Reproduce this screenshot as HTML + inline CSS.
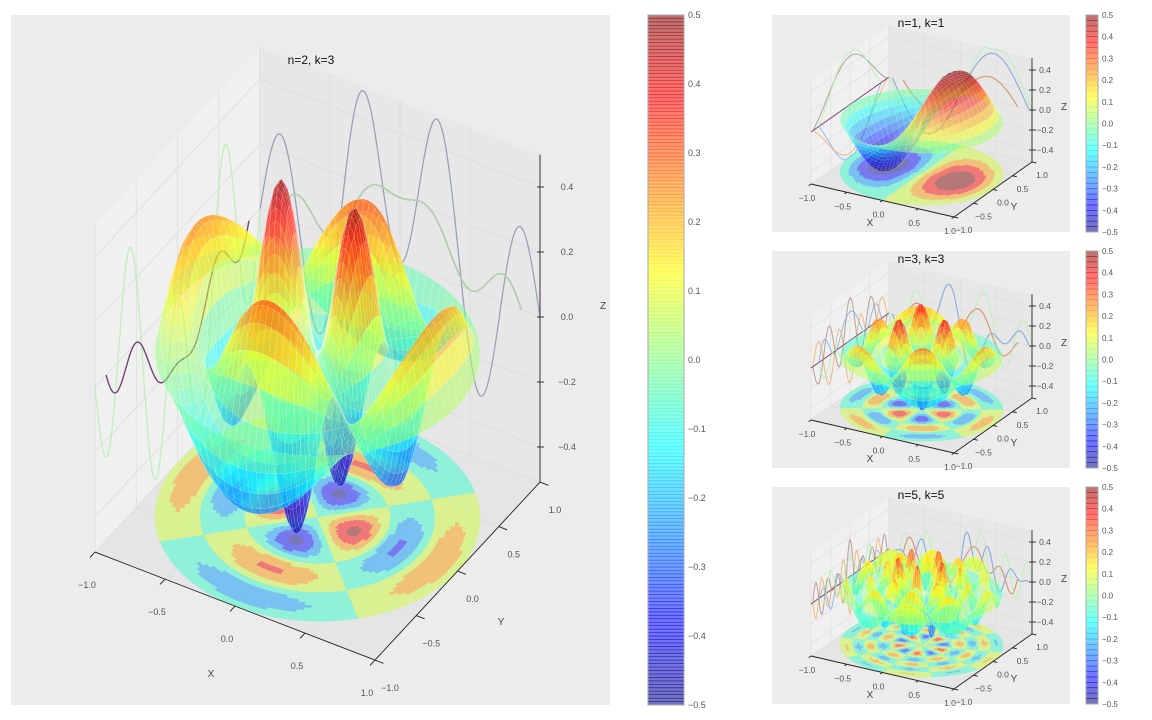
<!DOCTYPE html>
<html><head><meta charset="utf-8"><style>
html,body{margin:0;padding:0;background:#fff;}
svg{display:block;font-family:"Liberation Sans",sans-serif;}
</style></head><body>
<svg id="fig" width="1152" height="720" viewBox="0 0 1152 720" xmlns="http://www.w3.org/2000/svg">
<rect x="11" y="15" width="599" height="690" fill="#ececec"/>
<rect x="772" y="15" width="298" height="217" fill="#ececec"/>
<rect x="772" y="251" width="298" height="217" fill="#ececec"/>
<rect x="772" y="487" width="298" height="217" fill="#ececec"/>
</svg>
<script>
const nValues=[2,1,3,5];
const kValues=[3,1,3,5];
const besselZeros={1:[3.8317,7.0156,10.1735],2:[5.1356,8.4172,11.6198],3:[6.3802,9.7610,13.0152],5:[8.7715,12.3386,15.7002,19.0059,22.2178]};
const axisTicks=[-1,-0.5,0,0.5,1];
const axisTickLabels=['\u22121.0','\u22120.5','0.0','0.5','1.0'];
const zTicks=[-0.4,-0.2,0,0.2,0.4];
const zTickLabels=['\u22120.4','\u22120.2','0.0','0.2','0.4'];
const cbTicks=[0.5,0.4,0.3,0.2,0.1,0,-0.1,-0.2,-0.3,-0.4,-0.5];
const cbTickLabels=['0.5','0.4','0.3','0.2','0.1','0.0','\u22120.1','\u22120.2','\u22120.3','\u22120.4','\u22120.5'];
const contourStep=[0.15];
const sliceLevelsMain=[-0.5,0,0.5];
const sliceColorsMain=['#8898ac','#b4f0b4','#6e2c62'];
const sliceLevelsSmall=[-0.6,-0.3,0,0.3,0.6];
const sliceColorsSmall=['#80b0f0','#f0b070','#6e2c62','#a89484','#b4f0b4'];

const NS='http://www.w3.org/2000/svg';
const svg=document.getElementById('fig');
function mk(tag,attrs,parent){const e=document.createElementNS(NS,tag);for(const k in attrs)e.setAttribute(k,attrs[k]);(parent||svg).appendChild(e);return e;}
function clamp(v){return Math.max(0,Math.min(1,v));}
function jet(t){t=clamp(t);const r=clamp(1.5-Math.abs(4*t-3)),g=clamp(1.5-Math.abs(4*t-2)),b=clamp(1.5-Math.abs(4*t-1));return 'rgb('+Math.round(r*255)+','+Math.round(g*255)+','+Math.round(b*255)+')';}
function J(n,x){const N=64;let s=0;for(let i=0;i<=N;i++){const t=Math.PI*i/N;const w=(i==0||i==N)?0.5:1;s+=w*Math.cos(n*t-x*Math.sin(t));}return s/N;}

const layouts=[
 {O:[317.5,352],ex:[140,54],ey:[82.5,-89],ez:[0,-325],z0:-0.508,z1:0.5,nr:30,na:96,fr:40,fa:128,big:true,title:[311,64],dy:0},
 {O:[921.5,121],ex:[71.5,16.5],ey:[39,-27.5],ez:[0,-100],z0:-0.52,z1:0.52,nr:20,na:64,fr:30,fa:96,big:false,title:[921,27],dy:0},
 {O:[921.5,357],ex:[71.5,16.5],ey:[39,-27.5],ez:[0,-100],z0:-0.52,z1:0.52,nr:20,na:72,fr:30,fa:96,big:false,title:[921,263],dy:236},
 {O:[921.5,593],ex:[71.5,16.5],ey:[39,-27.5],ez:[0,-100],z0:-0.52,z1:0.52,nr:22,na:90,fr:34,fa:120,big:false,title:[921,499],dy:472}
];

function drawPanel(idx){
 const L=layouts[idx];const n=nValues[idx],k=kValues[idx];const a=besselZeros[n][k-1];
 const f=(x,y)=>{const r=Math.hypot(x,y),th=Math.atan2(y,x);return J(n,a*r)*Math.cos(n*th);};
 const P=(x,y,z)=>[L.O[0]+x*L.ex[0]+y*L.ey[0]+z*L.ez[0],L.O[1]+x*L.ex[1]+y*L.ey[1]+z*L.ez[1]];
 const pt=p=>p[0].toFixed(1)+','+p[1].toFixed(1);
 const g=mk('g',{});
 
 
 const z0=L.z0,z1=L.z1;
 const lw=mk('polygon',{points:[P(-1,-1,z0),P(-1,1,z0),P(-1,1,z1),P(-1,-1,z1)].map(pt).join(' '),fill:'#f0f0f0'},g);
 
 
 const bw=mk('polygon',{points:[P(-1,1,z0),P(1,1,z0),P(1,1,z1),P(-1,1,z1)].map(pt).join(' '),fill:'#e7e7e7'},g);
 
 
 const fl=mk('polygon',{points:[P(-1,-1,z0),P(1,-1,z0),P(1,1,z0),P(-1,1,z0)].map(pt).join(' '),fill:'#e5e5e5'},g);
 
 
 const gg=mk('g',{stroke:'#dcdcdc','stroke-width':L.big?0.8:0.6,fill:'none'},g);
 
 
 axisTicks.forEach(t=>{
  mk('line',{x1:P(t,-1,z0)[0],y1:P(t,-1,z0)[1],x2:P(t,1,z0)[0],y2:P(t,1,z0)[1]},gg);
  mk('line',{x1:P(-1,t,z0)[0],y1:P(-1,t,z0)[1],x2:P(1,t,z0)[0],y2:P(1,t,z0)[1]},gg);
  mk('line',{x1:P(-1,t,z0)[0],y1:P(-1,t,z0)[1],x2:P(-1,t,z1)[0],y2:P(-1,t,z1)[1]},gg);
  mk('line',{x1:P(t,1,z0)[0],y1:P(t,1,z0)[1],x2:P(t,1,z1)[0],y2:P(t,1,z1)[1]},gg);
 });
 zTicks.forEach(t=>{
  mk('line',{x1:P(-1,-1,t)[0],y1:P(-1,-1,t)[1],x2:P(-1,1,t)[0],y2:P(-1,1,t)[1]},gg);
  mk('line',{x1:P(-1,1,t)[0],y1:P(-1,1,t)[1],x2:P(1,1,t)[0],y2:P(1,1,t)[1]},gg);
 });
 const lev=L.big?sliceLevelsMain:sliceLevelsSmall, cols=L.big?sliceColorsMain:sliceColorsSmall;
 lev.forEach((c,i)=>{
  const h=Math.sqrt(1-c*c);const pa=[],pb=[];
  for(let s=0;s<=200;s++){const u=-h+2*h*s/200;
   pa.push(pt(P(-1,u,Math.max(z0,Math.min(z1,f(c,u))))));
   pb.push(pt(P(u,1,Math.max(z0,Math.min(z1,f(u,c))))));}
  const l1=mk('polyline',{points:pa.join(' '),fill:'none',stroke:cols[i],'stroke-width':L.big?1.3:1,'stroke-opacity':0.85},g);
  
  
  const l2=mk('polyline',{points:pb.join(' '),fill:'none',stroke:cols[(i+2)%cols.length],'stroke-width':L.big?1.3:1,'stroke-opacity':0.85},g);
  
  
 });
 const fg=mk('g',{opacity:0.47},g);
 
 
 const st=contourStep[0];
 for(let i=0;i<L.fr;i++)for(let j=0;j<L.fa;j++){
  const r0=i/L.fr,r1=(i+1)/L.fr,t0=2*Math.PI*j/L.fa,t1=2*Math.PI*(j+1)/L.fa;
  const rm=(r0+r1)/2,tm=(t0+t1)/2;const v=f(rm*Math.cos(tm),rm*Math.sin(tm));
  const q=Math.floor(v/st)*st+st/2;
  const c=jet(q+0.5);
  const ps=[[r0,t0],[r1,t0],[r1,t1],[r0,t1]].map(([r,t])=>pt(P(r*Math.cos(t),r*Math.sin(t),z0)));
  const pg=mk('polygon',{points:ps.join(' '),fill:c,stroke:c,'stroke-width':0.6},fg);
  
  
 }
 const quads=[];const e=0.45;
 for(let i=0;i<L.nr;i++)for(let j=0;j<L.na;j++){
  const r0=i/L.nr,r1=(i+1)/L.nr,t0=2*Math.PI*j/L.na,t1=2*Math.PI*(j+1)/L.na;
  const cs=[[r0,t0],[r1,t0],[r1,t1],[r0,t1]].map(([r,t])=>{const x=r*Math.cos(t),y=r*Math.sin(t);return [x,y,Math.max(z0,Math.min(z1,f(x,y)))];});
  const zm=(cs[0][2]+cs[1][2]+cs[2][2]+cs[3][2])/4;
  const xm=(cs[0][0]+cs[2][0])/2,ym=(cs[0][1]+cs[2][1])/2;
  quads.push({cs,zm,d:(xm-ym)/Math.SQRT2*Math.cos(e)+zm*Math.sin(e)});
 }
 quads.sort((p,q)=>p.d-q.d);
 const sg=mk('g',{},g);
 
 
 quads.forEach(qd=>{
  const pg=mk('polygon',{points:qd.cs.map(c=>pt(P(c[0],c[1],c[2]))).join(' '),fill:jet(qd.zm+0.5),'fill-opacity':0.5,stroke:'#ffffff','stroke-opacity':0.3,'stroke-width':L.big?0.4:0.3},sg);
  
  
 });
 const ag=mk('g',{stroke:'#222','stroke-width':0.9,fill:'none'},g);
 
 
 [[P(-1,-1,z0),P(1,-1,z0)],[P(1,-1,z0),P(1,1,z0)],[P(1,1,z0),P(1,1,z1)]].forEach(([p,q])=>mk('line',{x1:p[0],y1:p[1],x2:q[0],y2:q[1]},ag));
 const fs=L.big?9:8.5;const tc='#555';
 axisTicks.forEach((t,i)=>{
  const p=P(t,-1,z0),q=P(t,-1.06,z0);mk('line',{x1:p[0],y1:p[1],x2:q[0],y2:q[1]},ag);
  const ox=L.big?[-8,36]:[-4,17];
  const tx=mk('text',{x:p[0]+ox[0],y:p[1]+ox[1],'font-size':fs,fill:tc,'text-anchor':'middle'},g);tx.textContent=axisTickLabels[i];
  
  
  const p2=P(1,t,z0),q2=P(1.06,t,z0);mk('line',{x1:p2[0],y1:p2[1],x2:q2[0],y2:q2[1]},ag);
  const oy=L.big?[15,31]:[10,16];
  const ty=mk('text',{x:p2[0]+oy[0],y:p2[1]+oy[1],'font-size':fs,fill:tc,'text-anchor':'middle'},g);ty.textContent=axisTickLabels[i];
  
  
 });
 zTicks.forEach((t,i)=>{
  const p=P(1,1,t);mk('line',{x1:p[0]-3,y1:p[1],x2:p[0]+4,y2:p[1]},ag);
  const tz=mk('text',{x:p[0]+(L.big?27:13),y:p[1]+3,'font-size':fs,fill:tc,'text-anchor':'middle'},g);tz.textContent=zTickLabels[i];
  
  
 });
 const lab=L.big?{X:[211,677],Y:[501,625],Z:[603,309]}:{X:[870,226+L.dy],Y:[1014,210+L.dy],Z:[1064,110+L.dy]};
 ['X','Y','Z'].forEach(s=>{const t=mk('text',{x:lab[s][0],y:lab[s][1],'font-size':10,fill:'#444','text-anchor':'middle'},g);t.textContent=s;
  
  });
 const ti=mk('text',{x:L.title[0],y:L.title[1],'font-size':12,fill:'#111','text-anchor':'middle'},g);
 ti.textContent='n='+n+', k='+k;
 
 
}

function drawColorbar(x,y,w,h,levels,big,name){
 const g=mk('g',{});
 
 
 mk('rect',{x:x,y:y,width:w,height:h,fill:'#fff'},g);
 for(let i=0;i<levels;i++){
  const v=1-(i+0.5)/levels;const sy=y+h*i/levels;
  const s=mk('rect',{x:x,y:sy,width:w,height:h/levels+0.3,fill:jet(v),'fill-opacity':0.55},g);
  
  
  mk('line',{x1:x,x2:x+w,y1:sy,y2:sy,stroke:jet(v),'stroke-opacity':0.6,'stroke-width':0.7},g);
 }
 mk('rect',{x:x,y:y,width:w,height:h,fill:'none',stroke:'#aaa','stroke-width':1},g);
 cbTicks.forEach((t,i)=>{
  const ty=y+h*(0.5-t);
  const tx=mk('text',{x:x+w+4,y:ty+3,'font-size':big?9:8,fill:'#555'},g);tx.textContent=cbTickLabels[i];
  
  
 });
}

for(let i=0;i<4;i++)drawPanel(i);
drawColorbar(648,15,36,690,200,true,'main-colorbar');
drawColorbar(1086,15,12,217,40,false,'colorbar-1');
drawColorbar(1086,251,12,217,40,false,'colorbar-2');
drawColorbar(1086,487,12,217,40,false,'colorbar-3');
</script>
</body></html>
